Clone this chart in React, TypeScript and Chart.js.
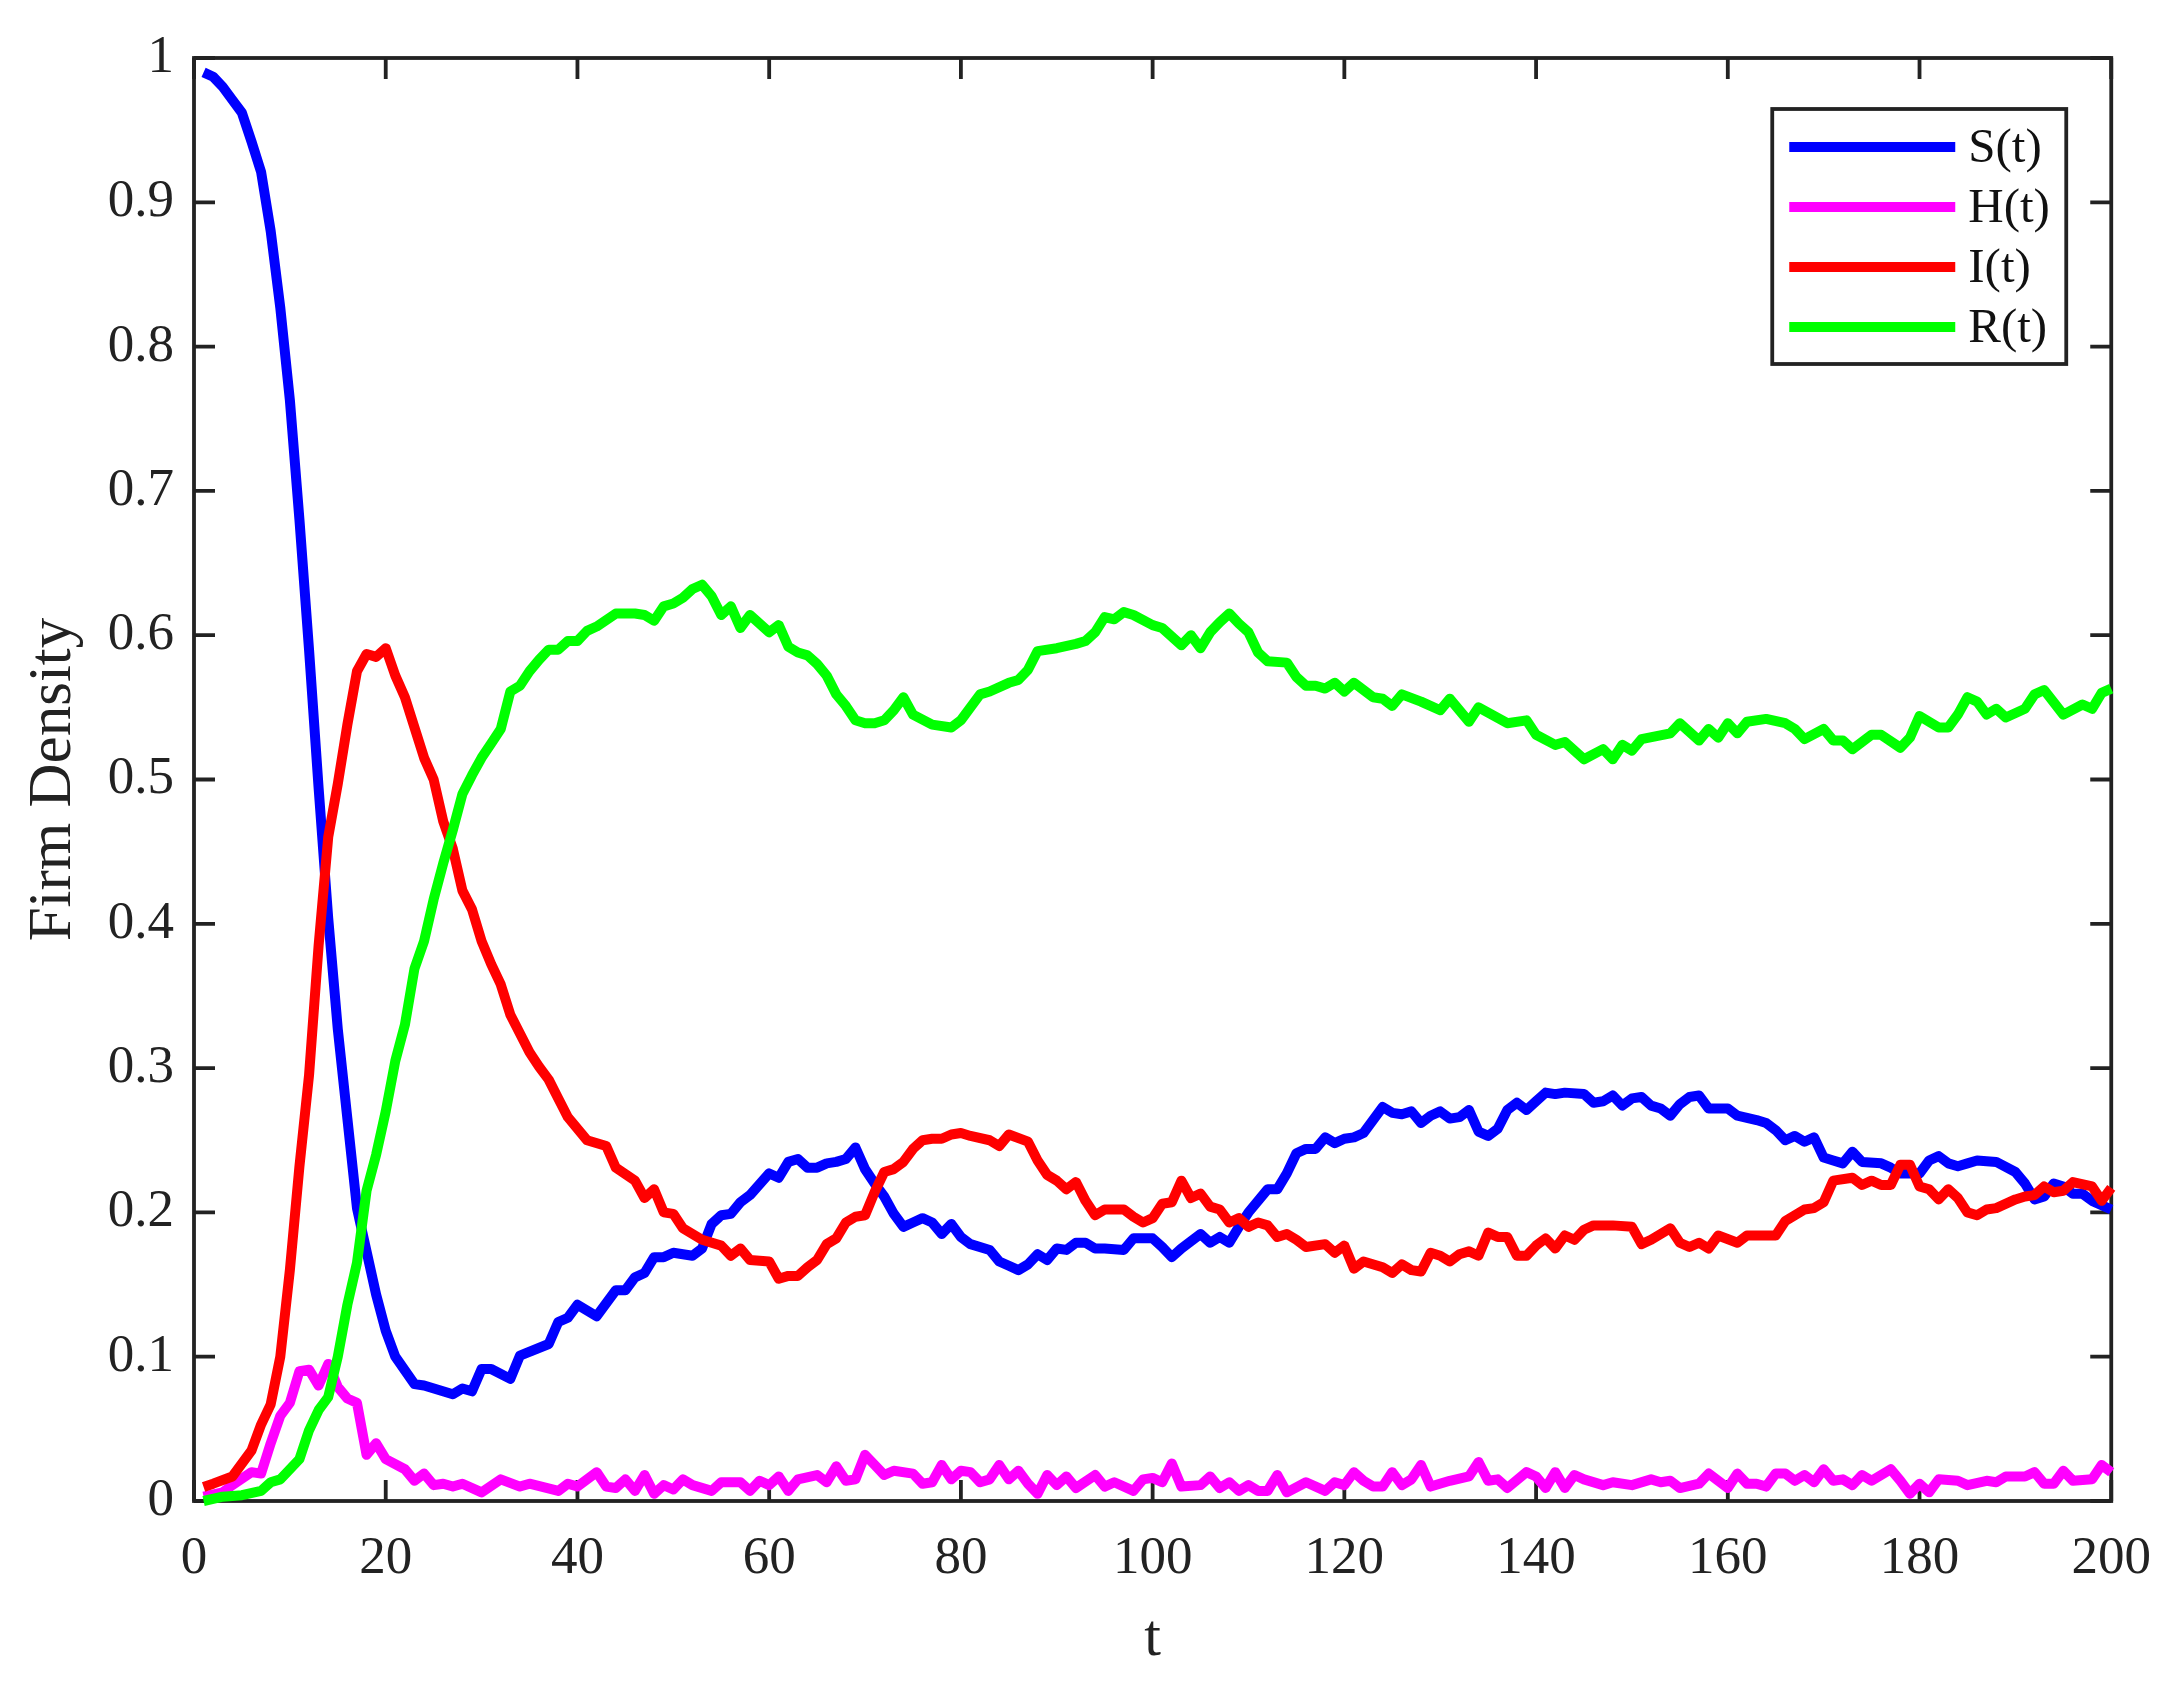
import { useEffect, useRef } from "react";
import { Chart, registerables } from "chart.js";

Chart.register(...registerables);

// readings from the figure: [t, density]
const susceptible: [number, number][] = [
  [1, 0.99], [2, 0.987], [3, 0.98], [4, 0.971], [5, 0.962], [6, 0.942], [7, 0.921], [8, 0.88],
  [9, 0.827], [10, 0.763], [11, 0.68], [12, 0.59], [13, 0.494], [14, 0.404], [15, 0.327],
  [16, 0.265], [17, 0.203], [18, 0.173], [19, 0.143], [20, 0.118], [21, 0.1], [23, 0.081],
  [24, 0.08], [27, 0.074], [28, 0.078], [29, 0.076], [30, 0.0915], [31, 0.0915], [33, 0.0846],
  [34, 0.1007], [37, 0.1088], [38, 0.124], [39, 0.127], [40, 0.136], [42, 0.128], [44, 0.146],
  [45, 0.146], [46, 0.155], [47, 0.158], [48, 0.169], [49, 0.169], [50, 0.172], [52, 0.17],
  [53, 0.175], [54, 0.192], [55, 0.198], [56, 0.199], [57, 0.207], [58, 0.212], [60, 0.227],
  [61, 0.224], [62, 0.235], [63, 0.237], [64, 0.231], [65, 0.231], [66, 0.234], [67, 0.235],
  [68, 0.237], [69, 0.245], [70, 0.23], [71, 0.22], [72, 0.211], [73, 0.199], [74, 0.19],
  [75, 0.193], [76, 0.196], [77, 0.193], [78, 0.185], [79, 0.192], [80, 0.183], [81, 0.178],
  [83, 0.174], [84, 0.166], [85, 0.163], [86, 0.16], [87, 0.164], [88, 0.171], [89, 0.167],
  [90, 0.175], [91, 0.174], [92, 0.179], [93, 0.179], [94, 0.175], [95, 0.175], [97, 0.174],
  [98, 0.182], [100, 0.182], [101, 0.176], [102, 0.169], [103, 0.175], [105, 0.185],
  [106, 0.179], [107, 0.183], [108, 0.179], [109, 0.19], [110, 0.2], [112, 0.216], [113, 0.216],
  [114, 0.227], [115, 0.241], [116, 0.244], [117, 0.244], [118, 0.252], [119, 0.248],
  [120, 0.251], [121, 0.252], [122, 0.255], [123, 0.264], [124, 0.273], [125, 0.269],
  [126, 0.268], [127, 0.27], [128, 0.262], [129, 0.267], [130, 0.27], [131, 0.265], [132, 0.266],
  [133, 0.271], [134, 0.256], [135, 0.253], [136, 0.258], [137, 0.271], [138, 0.276],
  [139, 0.271], [140, 0.277], [141, 0.283], [142, 0.282], [143, 0.283], [145, 0.282],
  [146, 0.276], [147, 0.277], [148, 0.281], [149, 0.274], [150, 0.279], [151, 0.28], [152, 0.274],
  [153, 0.272], [154, 0.267], [155, 0.275], [156, 0.28], [157, 0.281], [158, 0.272], [160, 0.272],
  [161, 0.267], [163, 0.264], [164, 0.262], [165, 0.257], [166, 0.25], [167, 0.253], [168, 0.249],
  [169, 0.252], [170, 0.238], [171, 0.236], [172, 0.234], [173, 0.242], [174, 0.235], [176, 0.234],
  [177, 0.231], [178, 0.227], [180, 0.227], [181, 0.236], [182, 0.239], [183, 0.234], [184, 0.232],
  [185, 0.234], [186, 0.236], [188, 0.235], [190, 0.228], [191, 0.22], [192, 0.209], [193, 0.211],
  [194, 0.22], [195, 0.218], [196, 0.213], [197, 0.213], [198, 0.208], [200, 0.202],
];

const hidden: [number, number][] = [
  [1, 0.003], [3, 0.006], [4, 0.011], [6, 0.02], [7, 0.019], [8, 0.04], [9, 0.059], [10, 0.068],
  [11, 0.09], [12, 0.091], [13, 0.08], [14, 0.095], [15, 0.079], [16, 0.071], [17, 0.068],
  [18, 0.032], [19, 0.04], [20, 0.029], [22, 0.022], [23, 0.014], [24, 0.019], [25, 0.011],
  [26, 0.012], [27, 0.01], [28, 0.012], [30, 0.006], [32, 0.015], [34, 0.01], [35, 0.012],
  [38, 0.007], [39, 0.012], [40, 0.01], [42, 0.02], [43, 0.01], [44, 0.009], [45, 0.015],
  [46, 0.007], [47, 0.018], [48, 0.005], [49, 0.011], [50, 0.008], [51, 0.015], [52, 0.011],
  [54, 0.007], [55, 0.013], [57, 0.013], [58, 0.007], [59, 0.014], [60, 0.011], [61, 0.017],
  [62, 0.007], [63, 0.015], [65, 0.018], [66, 0.013], [67, 0.024], [68, 0.014], [69, 0.015],
  [70, 0.032], [71, 0.025], [72, 0.018], [73, 0.021], [75, 0.019], [76, 0.012], [77, 0.013],
  [78, 0.025], [79, 0.015], [80, 0.021], [81, 0.02], [82, 0.013], [83, 0.015], [84, 0.025],
  [85, 0.015], [86, 0.021], [87, 0.012], [88, 0.005], [89, 0.018], [90, 0.011], [91, 0.017],
  [92, 0.009], [94, 0.018], [95, 0.01], [96, 0.013], [98, 0.007], [99, 0.015], [100, 0.016],
  [101, 0.013], [102, 0.026], [103, 0.01], [105, 0.011], [106, 0.017], [107, 0.009], [108, 0.013],
  [109, 0.007], [110, 0.011], [111, 0.007], [112, 0.007], [113, 0.018], [114, 0.006], [116, 0.013],
  [118, 0.007], [119, 0.013], [120, 0.011], [121, 0.02], [122, 0.014], [123, 0.01], [124, 0.01],
  [125, 0.02], [126, 0.011], [127, 0.015], [128, 0.025], [129, 0.01], [131, 0.014], [133, 0.017],
  [134, 0.027], [135, 0.014], [136, 0.015], [137, 0.009], [139, 0.02], [140, 0.017], [141, 0.009],
  [142, 0.02], [143, 0.009], [144, 0.018], [145, 0.015], [147, 0.011], [148, 0.013], [150, 0.011],
  [152, 0.015], [153, 0.013], [154, 0.014], [155, 0.009], [157, 0.012], [158, 0.019], [159, 0.014],
  [160, 0.009], [161, 0.019], [162, 0.012], [163, 0.012], [164, 0.01], [165, 0.019], [166, 0.019],
  [167, 0.014], [168, 0.018], [169, 0.013], [170, 0.022], [171, 0.014], [172, 0.015], [173, 0.011],
  [174, 0.018], [175, 0.014], [177, 0.022], [178, 0.014], [179, 0.005], [180, 0.012], [181, 0.006],
  [182, 0.015], [184, 0.014], [185, 0.011], [187, 0.014], [188, 0.013], [189, 0.017], [191, 0.017],
  [192, 0.02], [193, 0.012], [194, 0.012], [195, 0.021], [196, 0.014], [198, 0.015], [199, 0.025],
  [200, 0.02],
];

const infected: [number, number][] = [
  [1, 0.0097], [2, 0.012], [4, 0.017], [6, 0.035], [7, 0.053], [8, 0.067], [9, 0.1], [10, 0.16],
  [11, 0.232], [12, 0.295], [13, 0.385], [14, 0.46], [15, 0.497], [16, 0.538], [17, 0.575],
  [18, 0.587], [19, 0.585], [20, 0.591], [21, 0.572], [22, 0.557], [24, 0.515], [25, 0.5],
  [26, 0.471], [27, 0.452], [28, 0.423], [29, 0.41], [30, 0.388], [31, 0.372], [32, 0.358],
  [33, 0.337], [34, 0.324], [35, 0.311], [36, 0.301], [37, 0.292], [38, 0.279], [39, 0.266],
  [41, 0.25], [43, 0.246], [44, 0.231], [46, 0.222], [47, 0.21], [48, 0.216], [49, 0.2],
  [50, 0.199], [51, 0.189], [52, 0.185], [53, 0.181], [55, 0.177], [56, 0.17], [57, 0.175],
  [58, 0.167], [60, 0.166], [61, 0.154], [62, 0.156], [63, 0.156], [64, 0.162], [65, 0.167],
  [66, 0.178], [67, 0.182], [68, 0.193], [69, 0.197], [70, 0.198], [71, 0.214], [72, 0.228],
  [73, 0.23], [74, 0.235], [75, 0.244], [76, 0.25], [77, 0.251], [78, 0.251], [79, 0.254],
  [80, 0.255], [81, 0.253], [83, 0.25], [84, 0.246], [85, 0.254], [87, 0.249], [88, 0.236],
  [89, 0.226], [90, 0.222], [91, 0.216], [92, 0.221], [93, 0.208], [94, 0.198], [95, 0.202],
  [97, 0.202], [98, 0.197], [99, 0.193], [100, 0.196], [101, 0.206], [102, 0.207], [103, 0.222],
  [104, 0.21], [105, 0.213], [106, 0.204], [107, 0.202], [108, 0.193], [109, 0.196], [110, 0.19],
  [111, 0.193], [112, 0.191], [113, 0.183], [114, 0.185], [115, 0.181], [116, 0.176], [118, 0.178],
  [119, 0.172], [120, 0.177], [121, 0.161], [122, 0.166], [124, 0.162], [125, 0.158], [126, 0.164],
  [127, 0.16], [128, 0.159], [129, 0.172], [130, 0.17], [131, 0.166], [132, 0.171], [133, 0.173],
  [134, 0.17], [135, 0.186], [136, 0.183], [137, 0.183], [138, 0.17], [139, 0.17], [140, 0.177],
  [141, 0.182], [142, 0.175], [143, 0.184], [144, 0.181], [145, 0.188], [146, 0.191], [148, 0.191],
  [150, 0.19], [151, 0.178], [152, 0.181], [154, 0.189], [155, 0.179], [156, 0.176], [157, 0.179],
  [158, 0.175], [159, 0.184], [161, 0.179], [162, 0.184], [165, 0.184], [166, 0.194], [168, 0.202],
  [169, 0.203], [170, 0.207], [171, 0.222], [173, 0.224], [174, 0.219], [175, 0.222], [176, 0.219],
  [177, 0.219], [178, 0.233], [179, 0.233], [180, 0.218], [181, 0.216], [182, 0.209], [183, 0.216],
  [184, 0.21], [185, 0.2], [186, 0.198], [187, 0.202], [188, 0.203], [190, 0.209], [191, 0.211],
  [192, 0.212], [193, 0.218], [194, 0.214], [195, 0.215], [196, 0.221], [198, 0.218], [199, 0.208],
  [200, 0.217],
];

const recovered: [number, number][] = [
  [1, 0], [3, 0.003], [5, 0.004], [7, 0.007], [8, 0.013], [9, 0.015], [11, 0.029], [12, 0.049],
  [13, 0.063], [14, 0.072], [15, 0.1], [16, 0.136], [17, 0.165], [18, 0.215], [19, 0.24],
  [20, 0.27], [21, 0.305], [22, 0.33], [23, 0.369], [24, 0.388], [25, 0.417], [26, 0.442],
  [27, 0.465], [28, 0.49], [29, 0.503], [30, 0.515], [31, 0.525], [32, 0.535], [33, 0.561],
  [34, 0.565], [35, 0.575], [36, 0.583], [37, 0.59], [38, 0.59], [39, 0.596], [40, 0.596],
  [41, 0.603], [42, 0.606], [44, 0.615], [46, 0.615], [47, 0.614], [48, 0.61], [49, 0.62],
  [50, 0.622], [51, 0.626], [52, 0.632], [53, 0.635], [54, 0.627], [55, 0.614], [56, 0.62],
  [57, 0.605], [58, 0.614], [60, 0.602], [61, 0.607], [62, 0.592], [63, 0.588], [64, 0.586],
  [65, 0.58], [66, 0.572], [67, 0.559], [68, 0.551], [69, 0.541], [70, 0.539], [71, 0.539],
  [72, 0.541], [73, 0.548], [74, 0.557], [75, 0.545], [77, 0.538], [79, 0.536], [80, 0.541],
  [82, 0.559], [83, 0.561], [85, 0.567], [86, 0.569], [87, 0.576], [88, 0.589], [90, 0.591],
  [92, 0.594], [93, 0.596], [94, 0.602], [95, 0.6125], [96, 0.611], [97, 0.616], [98, 0.614],
  [100, 0.607], [101, 0.605], [103, 0.593], [104, 0.6], [105, 0.591], [106, 0.602], [107, 0.609],
  [108, 0.615], [109, 0.608], [110, 0.602], [111, 0.588], [112, 0.582], [114, 0.581], [115, 0.571],
  [116, 0.565], [117, 0.565], [118, 0.563], [119, 0.567], [120, 0.561], [121, 0.567], [122, 0.562],
  [123, 0.557], [124, 0.556], [125, 0.551], [126, 0.559], [128, 0.554], [130, 0.548], [131, 0.556],
  [133, 0.54], [134, 0.55], [137, 0.539], [139, 0.541], [140, 0.531], [142, 0.524], [143, 0.526],
  [145, 0.514], [147, 0.521], [148, 0.514], [149, 0.524], [150, 0.52], [151, 0.528], [154, 0.532],
  [155, 0.539], [157, 0.527], [158, 0.535], [159, 0.529], [160, 0.539], [161, 0.532], [162, 0.54],
  [164, 0.542], [166, 0.539], [167, 0.535], [168, 0.528], [170, 0.535], [171, 0.527], [172, 0.527],
  [173, 0.521], [175, 0.531], [176, 0.531], [178, 0.522], [179, 0.529], [180, 0.544], [182, 0.536],
  [183, 0.536], [184, 0.545], [185, 0.557], [186, 0.554], [187, 0.545], [188, 0.549], [189, 0.543],
  [191, 0.549], [192, 0.559], [193, 0.562], [195, 0.545], [197, 0.552], [198, 0.549], [199, 0.56],
  [200, 0.563],
];

const SERIES_LABELS = ["S(t)", "H(t)", "I(t)", "R(t)"];
const SERIES_COLORS = ["#0000ff", "#ff00ff", "#ff0000", "#00ff00"];

const AXIS_COLOR = "#222222";
const FONT = "'Liberation Serif', 'Times New Roman', serif";
const TICK_LEN = 21;
const LINE_W = 10;

// MATLAB style box with inward ticks on every side
const boxAxes = {
  id: "boxAxes",
  beforeDatasetsDraw(chart: any) {
    const { ctx, chartArea, scales } = chart;
    const { left, right, top, bottom } = chartArea;
    ctx.save();
    ctx.strokeStyle = AXIS_COLOR;
    ctx.lineWidth = 3.8;
    ctx.beginPath();
    scales.x.ticks.forEach((t: any) => {
      const px = scales.x.getPixelForValue(t.value);
      ctx.moveTo(px, bottom);
      ctx.lineTo(px, bottom - TICK_LEN);
      ctx.moveTo(px, top);
      ctx.lineTo(px, top + TICK_LEN);
    });
    scales.y.ticks.forEach((t: any) => {
      const py = scales.y.getPixelForValue(t.value);
      ctx.moveTo(left, py);
      ctx.lineTo(left + TICK_LEN, py);
      ctx.moveTo(right, py);
      ctx.lineTo(right - TICK_LEN, py);
    });
    ctx.stroke();
    ctx.strokeRect(left, top, right - left, bottom - top);
    ctx.restore();
  },
};

const boxLegend = {
  id: "boxLegend",
  afterDraw(chart: any) {
    const { ctx, chartArea } = chart;
    const w = 294;
    const h = 255;
    const x0 = chartArea.right - 45 - w;
    const y0 = chartArea.top + 51;
    ctx.save();
    ctx.fillStyle = "#ffffff";
    ctx.fillRect(x0, y0, w, h);
    ctx.strokeStyle = AXIS_COLOR;
    ctx.lineWidth = 3.8;
    ctx.strokeRect(x0, y0, w, h);
    ctx.font = `49px ${FONT}`;
    ctx.textAlign = "left";
    ctx.textBaseline = "middle";
    chart.data.datasets.forEach((ds: any, i: number) => {
      const yy = y0 + 38 + i * 60;
      ctx.strokeStyle = ds.borderColor;
      ctx.lineWidth = LINE_W;
      ctx.beginPath();
      ctx.moveTo(x0 + 17, yy);
      ctx.lineTo(x0 + 183, yy);
      ctx.stroke();
      ctx.fillStyle = "#111111";
      ctx.fillText(ds.label, x0 + 196, yy + 2);
    });
    ctx.restore();
  },
};

export default function App() {
  const canvasRef = useRef<HTMLCanvasElement>(null);

  useEffect(() => {
    document.body.style.margin = "0";
    const ctx = canvasRef.current?.getContext("2d");
    if (!ctx) return;

    const seriesData = [susceptible, hidden, infected, recovered];

    const chart = new Chart(ctx, {
      type: "line",
      data: {
        datasets: seriesData.map((pts, i) => ({
          label: SERIES_LABELS[i],
          data: pts.map(([t, v]) => ({ x: t, y: v })),
          borderColor: SERIES_COLORS[i],
          backgroundColor: SERIES_COLORS[i],
          borderWidth: LINE_W,
          borderJoinStyle: "round" as const,
          borderCapStyle: "butt" as const,
          pointRadius: 0,
          pointHoverRadius: 0,
          tension: 0,
          fill: false,
          clip: false as any,
          order: 4 - i,
        })),
      },
      plugins: [boxAxes, boxLegend],
      options: {
        animation: false,
        responsive: false,
        devicePixelRatio: 1,
        events: [],
        layout: { padding: { top: 58, right: 61, left: 0, bottom: 0 } },
        plugins: {
          legend: { display: false },
          tooltip: { enabled: false },
        },
        scales: {
          x: {
            type: "linear",
            min: 0,
            max: 200,
            border: { display: false },
            grid: { display: false, drawTicks: false },
            ticks: {
              stepSize: 20,
              autoSkip: false,
              maxRotation: 0,
              padding: 26,
              color: AXIS_COLOR,
              font: { family: FONT, size: 53 },
            },
            title: {
              display: true,
              text: "t",
              color: AXIS_COLOR,
              font: { family: FONT, size: 60 },
              padding: { top: 0, bottom: 9 },
            },
            afterFit(scale: any) {
              scale.height = 183;
            },
          },
          y: {
            type: "linear",
            min: 0,
            max: 1,
            border: { display: false },
            grid: { display: false, drawTicks: false },
            ticks: {
              stepSize: 0.1,
              padding: 20,
              color: AXIS_COLOR,
              font: { family: FONT, size: 53 },
              callback: (v: any) => String(Number(Number(v).toFixed(1))),
            },
            title: {
              display: true,
              text: "Firm Density",
              color: AXIS_COLOR,
              font: { family: FONT, size: 61 },
              padding: { top: 17, bottom: 0 },
            },
            afterFit(scale: any) {
              scale.width = 194;
            },
          },
        },
      },
    });

    return () => chart.destroy();
  }, []);

  return (
    <div style={{ width: 2177, height: 1684, background: "#ffffff" }}>
      <canvas ref={canvasRef} width={2177} height={1684} />
    </div>
  );
}
